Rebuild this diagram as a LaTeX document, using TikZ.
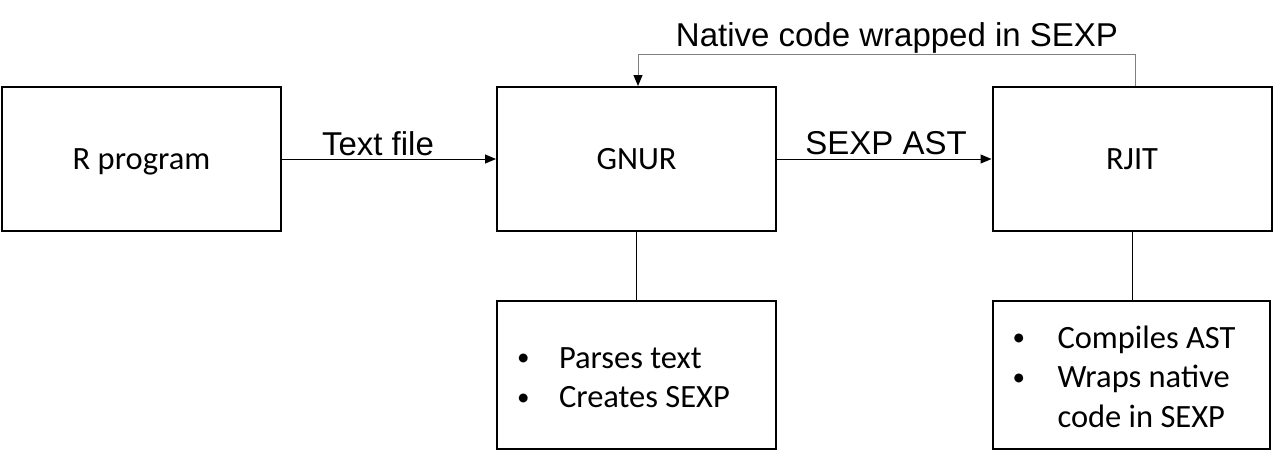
\documentclass[tikz,border=0pt]{standalone}
\usepackage{fontspec}
\setmainfont{Carlito}
\newfontfamily\arialfont{Liberation Sans}
\usetikzlibrary{arrows.meta}
\newcommand\mybul{\raisebox{2.5pt}{\fontsize{25}{25}\selectfont •}}
\begin{document}
\begin{tikzpicture}[x=1pt,y=-1pt,
  box/.style={draw, line width=2pt, minimum width=279pt, minimum height=144pt, inner sep=0pt, font=\fontsize{32.5}{39.5}\selectfont, align=center},
  mainbox/.style={box, text height=21pt, text depth=0pt},
  subbox/.style={box, minimum height=148pt},
  lbl/.style={font=\arialfont\fontsize{33}{38}\selectfont, inner sep=0pt, anchor=base},
  conn/.style={line width=1pt},
  arr/.style={line width=1pt, -{Triangle[length=11pt,width=9pt]}},
  fb/.style={line width=1pt, draw=gray, -{Triangle[length=11pt,width=9pt,color=black,fill=black]}},
]
\useasboundingbox (0,0) rectangle (1273,456);
\node[mainbox] (rprog) at (141.5,159) {R program};
\node[mainbox] (gnur) at (636.5,159) {GNUR};
\node[mainbox] (rjit) at (1132,159) {RJIT};
\node[subbox] (gsub) at (636.5,375)
  {\raisebox{-5pt}[\height][\depth]{\begin{tabular}{@{}p{42pt}@{}p{197pt}@{}}\mybul&Parses text\\\mybul&Creates SEXP\end{tabular}}};
\node[subbox, minimum width=277pt] (rsub) at (1131.5,375)
  {\raisebox{-5pt}[\height][\depth]{\begin{tabular}{@{}p{45pt}@{}p{193pt}@{}}\mybul&Compiles AST\\\mybul&Wraps native\\&code in SEXP\end{tabular}}};
\draw[arr] (rprog) -- (gnur);
\draw[arr] (gnur) -- (rjit);
\node[lbl] (tf) at (378,155) {Text file};
\node[lbl] (sa) at (886,154) {SEXP AST};
\coordinate (fbr) at (1135,54);
\coordinate (fbl) at (638,54);
\draw[fb] (rjit.north -| fbr) -- (fbr) -- (fbl) -- (gnur.north -| fbl);
\node[lbl] (nc) at (897,46) {Native code wrapped in SEXP};
\draw[conn] (gnur.south) -- (gsub.north);
\draw[conn] (rjit.south) -- (rsub.north -| rjit.south);
\end{tikzpicture}
\end{document}
